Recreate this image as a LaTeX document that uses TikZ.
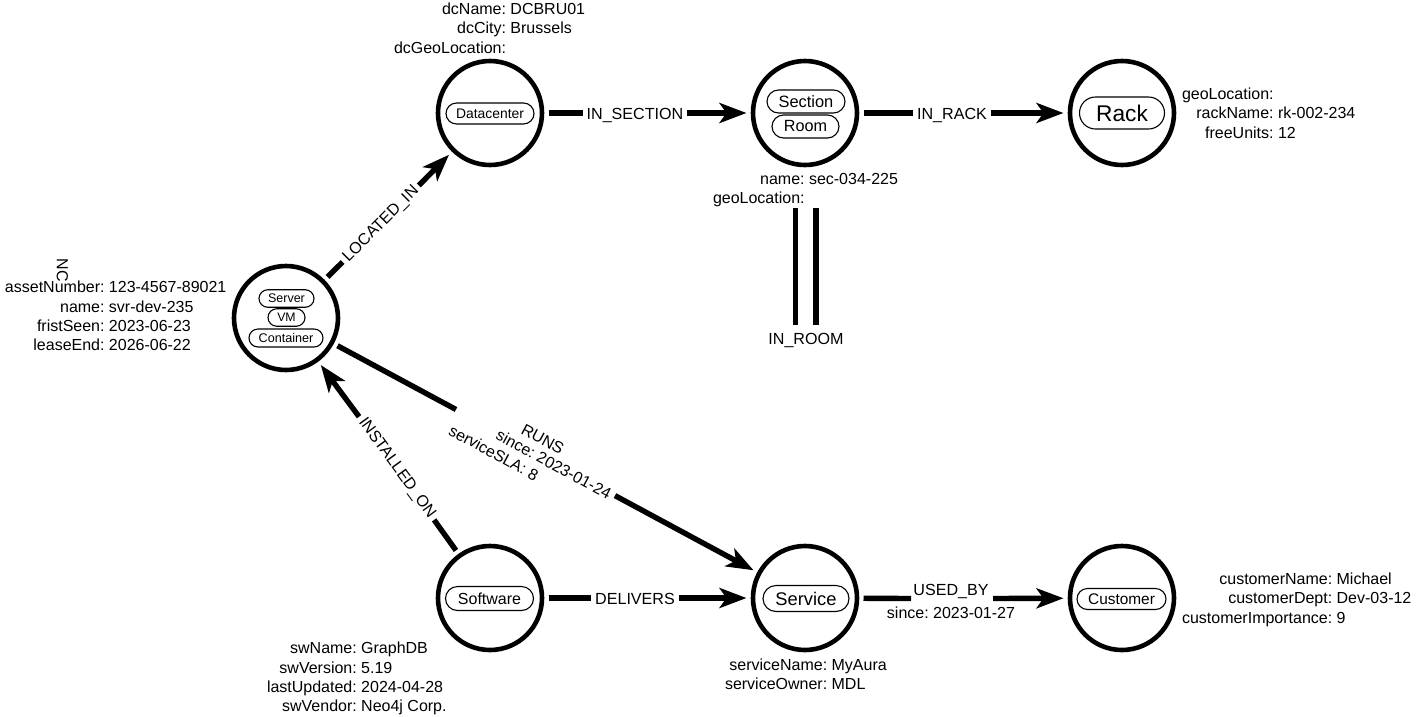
\documentclass[tikz,border=0pt]{standalone}
\usepackage{fontspec}
\setmainfont{Liberation Sans}
\usetikzlibrary{arrows.meta,shapes.misc}
\frenchspacing
\newcommand{\fs}[1]{\fontsize{#1}{#1}\selectfont}
\newcommand{\props}[1]{\fontsize{16}{19.3}\selectfont\begin{tabular}{@{}r@{:\hspace{4.4pt}}l@{}}#1\end{tabular}}
\tikzset{
  entity/.style={circle,draw=black,line width=4.6pt,minimum size=104pt,inner sep=0pt,outer sep=6.5pt},
  pill/.style={rounded rectangle,draw=black,line width=1.1pt,inner sep=0pt,outer sep=0pt},
  edgelabel/.style={inner xsep=4pt,inner ysep=0pt,outer sep=0pt,text height=12pt,text depth=3.5pt,font=\fs{16.1}},
  proptext/.style={inner sep=0pt,outer sep=0pt,anchor=west},
  rel/.style={line width=5.4pt,line cap=butt},
  relarrow/.style={rel,-{Stealth[length=27pt,width=20pt,inset=7pt]}}
}
\begin{document}
\begin{tikzpicture}[x=1pt,y=-1pt]
\useasboundingbox (0,0) rectangle (1417,716);
% entities
\node[entity] (server) at (286,318) {};
\node[entity] (dc) at (490,113) {};
\node[entity] (section) at (805,113) {};
\node[entity] (rack) at (1122,113) {};
\node[entity] (software) at (490,598) {};
\node[entity] (service) at (805,598) {};
\node[entity] (customer) at (1122,598) {};
% pills
\node[pill,minimum width=55pt,minimum height=17.5pt,font=\fs{12.5}] (pServer) at (286.5,298.5) {Server};
\node[pill,minimum width=37pt,minimum height=17.5pt,font=\fs{12.3}] (pVM) at (286.5,317.5) {VM};
\node[pill,minimum width=74pt,minimum height=18pt,font=\fs{12.6}] (pContainer) at (286,338) {Container};
\node[pill,minimum width=88pt,minimum height=21pt,font=\fs{13.9}] (pDc) at (490,113.5) {Datacenter};
\node[pill,minimum width=78pt,minimum height=23pt,font=\fs{16.4}] (pSection) at (806,101.5) {Section};
\node[pill,minimum width=67pt,minimum height=23pt,font=\fs{16.2}] (pRoom) at (805.5,126.5) {Room};
\node[pill,minimum width=85pt,minimum height=32pt,font=\fs{22.7}] (pRack) at (1122,113) {Rack};
\node[pill,minimum width=88pt,minimum height=24pt,font=\fs{16}] (pSoftware) at (489.5,598.5) {Software};
\node[pill,minimum width=86pt,minimum height=26pt,font=\fs{18.3}] (pService) at (806,598.5) {Service};
\node[pill,minimum width=89pt,minimum height=21pt,font=\fs{15.4}] (pCustomer) at (1121.5,599) {Customer};
% edge labels
\node[edgelabel,rotate=45] (lLocated) at (381,224) {LOCATED\_IN};
\node[edgelabel] (lSection) at (635,115) {IN\_SECTION};
\node[edgelabel] (lRack) at (952,115) {IN\_RACK};
\node[edgelabel] (lDelivers) at (635,600) {DELIVERS};
\node[edgelabel,rotate=-54] (lInstalled) at (397,468) {INSTALLED\_ON};
\node[edgelabel] (lRoom) at (806,340.5) {IN\_ROOM};
\node[edgelabel] (lUsed) at (951,591) {USED\_BY};
\node[inner sep=0pt,font=\fs{16}] (lUsedSince) at (951,612.5) {since: 2023-01-27};
\node[inner sep=0pt,rotate=-28.4,align=center] (lRuns) at (533,457) {\fs{16.1}RUNS\\[3pt]\fontsize{16}{18.5}\selectfont\begin{tabular}{@{}r@{:\hspace{4.4pt}}l@{}}since&2023-01-24\\serviceSLA&8\end{tabular}};
% gap ends
\coordinate (runsA) at (456,409.5);
\coordinate (runsB) at (615,495.6);
\coordinate (usedA) at (911,598.5);
\coordinate (usedB) at (993,598.5);
\coordinate (roomA1) at (795.5,208);
\coordinate (roomA2) at (795.5,325);
\coordinate (roomB1) at (816,208);
\coordinate (roomB2) at (816,325);
% connectors
\draw[rel] (server) -- (lLocated);
\draw[relarrow] (lLocated) -- (dc);
\draw[rel] (dc.east |- dc) -- (lSection.west |- dc);
\draw[relarrow] (lSection.east |- dc) -- (section);
\draw[rel] (section.east |- section) -- (lRack.west |- section);
\draw[relarrow] (lRack.east |- section) -- (rack);
\draw[rel] (software) -- (lInstalled);
\draw[relarrow] (lInstalled) -- (server);
\draw[rel] (software.east |- software) -- (lDelivers.west |- software);
\draw[relarrow] (lDelivers.east |- software) -- (service);
\draw[rel] (service) -- (usedA);
\draw[relarrow] (usedB) -- (customer);
\draw[rel] (server) -- (runsA);
\draw[relarrow] (runsB) -- (service);
\draw[rel] (roomA1) -- (roomA2);
\draw[rel] (roomB1) -- (roomB2);
% property blocks
\node[inner sep=0pt,rotate=-90,font=\fs{16}] (tNC) at (62.5,270) {NC};
\node[proptext] (tServer) at (5,318) {\props{assetNumber&123-4567-89021\\name&svr-dev-235\\fristSeen&2023-06-23\\leaseEnd&2026-06-22}};
\node[proptext] (tDc) at (394,30) {\props{dcName&DCBRU01\\dcCity&Brussels\\dcGeoLocation&}};
\node[proptext] (tSection) at (713,190) {\props{name&sec-034-225\\geoLocation&}};
\node[proptext] (tRack) at (1182,115) {\props{geoLocation&\\rackName&rk-002-234\\freeUnits&12}};
\node[proptext] (tSoftware) at (267,679) {\props{swName&GraphDB\\swVersion&5.19\\lastUpdated&2024-04-28\\swVendor&Neo4j Corp.}};
\node[proptext] (tService) at (725,676) {\props{serviceName&MyAura\\serviceOwner&MDL}};
\node[proptext] (tCustomer) at (1182,600) {\props{customerName&Michael\\customerDept&Dev-03-12\\customerImportance&9}};
\end{tikzpicture}
\end{document}
